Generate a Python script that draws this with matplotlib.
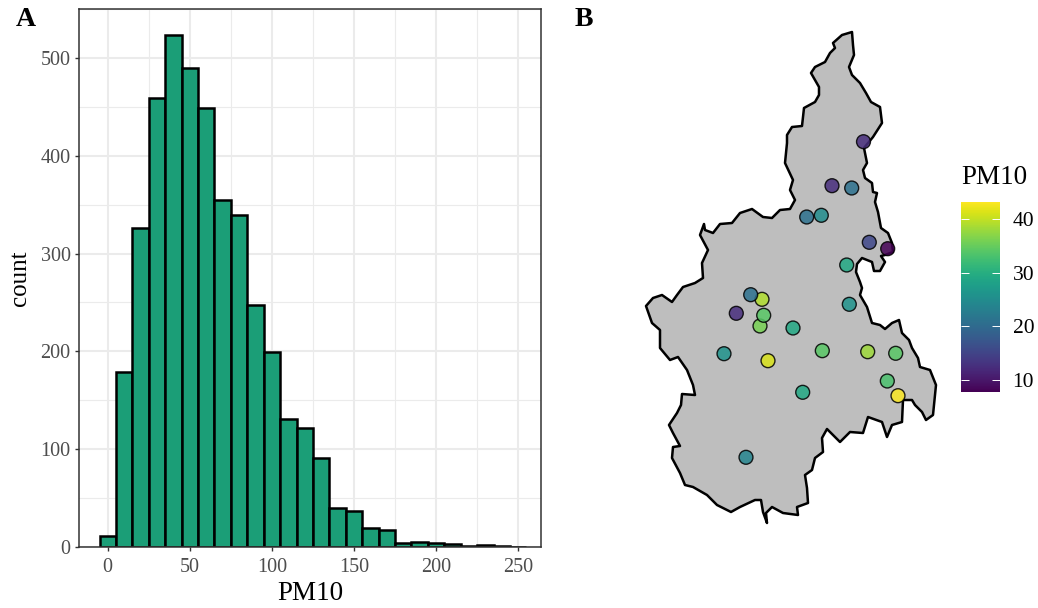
#!/usr/bin/env python3
"""Histogram of PM10 (A) and map of mean PM10 at the stations (B)"""

import matplotlib
matplotlib.use('Agg')
import matplotlib.pyplot as plt

# Histogram data
bin_centers = [0, 10, 20, 30, 40, 50, 60, 70, 80, 90, 100, 110, 120, 130, 140,
               150, 160, 170, 180, 190, 200, 210, 220, 230, 240, 250]
bin_counts = [11, 179, 326, 459, 523, 490, 449, 355, 339, 247, 199, 131, 122,
              91, 40, 37, 19, 17, 4, 5, 4, 3, 1, 2, 1, 0]

# Region boundary
boundary_x = [852, 853, 854, 849, 852, 860, 866, 871, 880, 882,
              873, 864, 867, 863, 865, 872, 873, 877, 875, 878,
              881, 888, 892, 893, 885, 881, 885, 880, 874, 872,
              862, 857, 856, 860, 862, 860, 867, 872, 880, 885,
              892, 899, 902, 909, 912, 918, 920, 930, 936, 933,
              926, 922, 915, 912, 903, 902, 892, 887, 882, 868,
              863, 850, 840, 827, 822, 823, 815, 812, 805, 807,
              808, 797, 798, 783, 772, 766, 767, 763, 761, 755,
              740, 731, 717, 707, 693, 685, 680, 672, 673, 680,
              673, 669, 677, 681, 682, 695, 693, 687, 678, 670,
              660, 660, 652, 646, 653, 662, 672, 677, 683, 695,
              703, 702, 708, 700, 704, 705, 713, 720, 732, 740,
              752, 763, 772, 780, 790, 795, 790, 793, 785, 787,
              787, 792, 802, 804, 815, 819, 819, 811, 815, 825,
              830, 835, 833, 842]
boundary_y = [32, 45, 55, 67, 75, 83, 93, 102, 107, 123,
              137, 148, 163, 170, 178, 183, 192, 193, 202, 212,
              228, 233, 243, 252, 255, 256, 262, 271, 271, 262,
              258, 264, 272, 282, 288, 295, 307, 323, 325, 329,
              323, 320, 333, 340, 348, 358, 367, 370, 385, 415,
              420, 412, 405, 400, 400, 422, 425, 437, 422, 417,
              433, 432, 442, 429, 438, 452, 458, 470, 475, 488,
              503, 507, 515, 513, 507, 513, 523, 512, 500, 500,
              507, 512, 505, 495, 487, 485, 473, 458, 447, 446,
              433, 425, 413, 405, 394, 395, 385, 370, 357, 360,
              348, 330, 323, 306, 298, 295, 302, 295, 287, 283,
              278, 263, 250, 235, 224, 230, 233, 224, 223, 213,
              209, 217, 218, 210, 209, 200, 190, 180, 163, 143,
              135, 127, 126, 108, 102, 95, 87, 73, 67, 62,
              53, 48, 43, 35]

# Stations
station_x = [863.5, 832, 851.7, 806.7, 821.3, 869.3, 887.7, 846.7, 762, 750.7,
             736.3, 760, 763.7, 793, 849.3, 724, 768, 822.3, 867.7, 895.7,
             887.3, 898, 802.7, 746]
station_y = [141.7, 185.7, 188, 217, 215.3, 242.3, 248.7, 265, 299.3, 294.7,
             313.3, 326, 315.3, 328, 304.3, 353.7, 360.7, 350.7, 351.7, 353.3,
             381, 395.7, 392.3, 457.3]
station_pm10 = [12.5, 12.5, 21, 21, 25, 15.5, 8, 29, 39, 21, 12.5, 36, 34, 29,
                26, 26, 41, 34, 38, 34, 33, 43, 29, 24]

PM10_RANGE = (7.9, 43.2)
W, H = 1038, 608


def px_axes(fig, left, top, right, bottom):
    """Axes placed by pixel edges, measured from the top left"""
    return fig.add_axes([left / W, 1 - bottom / H, (right - left) / W, (bottom - top) / H])


plt.rcParams['font.family'] = ['Liberation Serif', 'DejaVu Serif']

fig = plt.figure(figsize=(W / 100, H / 100), dpi=100)

# Panel A
ax_hist = px_axes(fig, 79, 9, 541, 547)
ax_hist.set_axisbelow(True)
ax_hist.bar(bin_centers, bin_counts, width=10, color='#1B9E77', edgecolor='black', linewidth=1.8)
ax_hist.set_xlim(-17.5, 263.9)
ax_hist.set_ylim(0, 550)
ax_hist.set_xticks([0, 50, 100, 150, 200, 250])
ax_hist.set_xticks([25, 75, 125, 175, 225], minor=True)
ax_hist.set_yticks([0, 100, 200, 300, 400, 500])
ax_hist.set_yticks([50, 150, 250, 350, 450, 550], minor=True)
ax_hist.grid(True, which='major', color='#EBEBEB', linewidth=1.5)
ax_hist.grid(True, which='minor', color='#EBEBEB', linewidth=0.8)
ax_hist.tick_params(which='minor', length=0)
ax_hist.tick_params(which='major', length=3, width=1, color='#333333',
                    labelcolor='#4D4D4D', labelsize=14.5, pad=3)
ax_hist.tick_params(axis='x', which='major', pad=5)
ax_hist.set_xlabel('PM10', fontsize=19.5, labelpad=3)
ax_hist.set_ylabel('count', fontsize=18, labelpad=7)
for spine in ax_hist.spines.values():
    spine.set_color('#333333')
    spine.set_linewidth(1.1)
    spine.set_zorder(5)

# Panel B
ax_map = px_axes(fig, 620, 20, 950, 535)
ax_map.fill(boundary_x, boundary_y, facecolor='#BEBEBE', edgecolor='black',
            linewidth=1.8, joinstyle='round')
points = ax_map.scatter(station_x, station_y, c=station_pm10, cmap='viridis',
                        vmin=PM10_RANGE[0], vmax=PM10_RANGE[1], s=100,
                        edgecolors='black', linewidths=1.0, alpha=0.85, zorder=3)
ax_map.set_xlim(620, 950)
ax_map.set_ylim(535, 20)
ax_map.axis('off')

# Legend
cax = px_axes(fig, 961, 201.5, 1000, 391.5)
points_bar = fig.colorbar(points, cax=cax)
points_bar.solids.set_alpha(1)
points_bar.outline.set_visible(False)
points_bar.set_ticks([10, 20, 30, 40])
cax.tick_params(direction='in', length=5.6, width=0.7, color='white',
                left=True, right=True, labelsize=15.5, pad=9)

fig.text(961 / W, 1 - 177 / H, 'PM10', fontsize=19.5, ha='left', va='center')
fig.text(16 / W, 1 - 20 / H, 'A', fontsize=20, fontweight='bold', ha='left', va='center')
fig.text(575 / W, 1 - 20 / H, 'B', fontsize=20, fontweight='bold', ha='left', va='center')

fig.savefig('out.png', dpi=100)
